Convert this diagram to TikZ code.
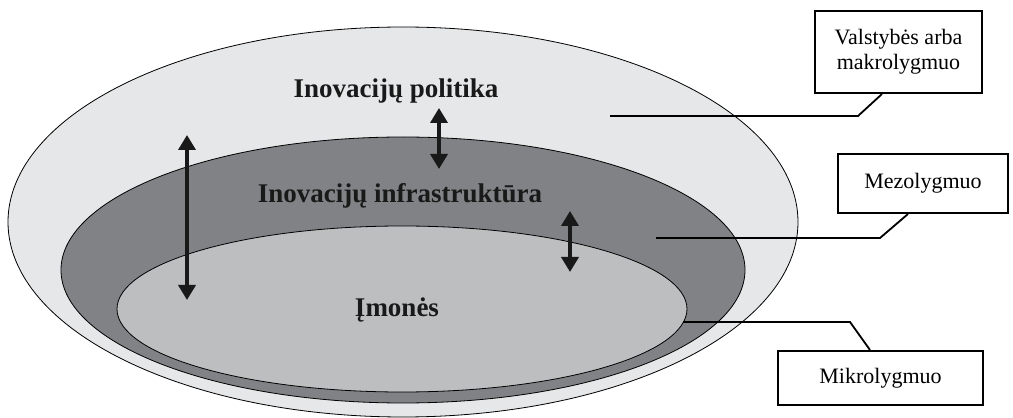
\documentclass[tikz,border=0pt]{standalone}
\usepackage{fontspec}
\setmainfont{Liberation Serif}
\usetikzlibrary{arrows.meta}
\definecolor{outerc}{HTML}{E6E7E8}
\definecolor{midc}{HTML}{808285}
\definecolor{innerc}{HTML}{BCBEC0}
\begin{document}
\begin{tikzpicture}[x=1pt,y=1pt,
  ring/.style={draw=black,line width=0.8pt},
  title/.style={font=\fontsize{27}{30}\selectfont\bfseries,anchor=base,inner sep=0pt,text=black!90},
  lvlbox/.style={draw=black,line width=2pt,fill=white,font=\fontsize{22}{25}\selectfont,align=center,inner sep=2pt},
  leader/.style={draw=black,line width=1.8pt},
  dbl/.style={line width=3.6pt,draw=black!90,{Triangle[width=17pt,length=15pt]}-{Triangle[width=17pt,length=15pt]}}]
\useasboundingbox (0,0) rectangle (1013,418);
\fill[white] (0,0) rectangle (1013,418);
% ellipses
\draw[ring,fill=outerc] (403,196) ellipse [x radius=395,y radius=195];
\draw[ring,fill=midc] (403,148) ellipse [x radius=342,y radius=133];
\draw[ring,fill=innerc] (402,109) ellipse [x radius=285,y radius=83];
% texts
\node[title] (pol) at (396,320) {Inovacijų politika};
\node[title] (inf) at (400,215) {Inovacijų infrastruktūra};
\node[title] (imo) at (397,101) {Įmonės};
% arrows
\coordinate (a1t) at (187,283); \coordinate (a1b) at (187,118);
\coordinate (a2t) at (439,310); \coordinate (a2b) at (439,249);
\coordinate (a3t) at (570,207); \coordinate (a3b) at (570,146);
\draw[dbl] (a1t) -- (a1b);
\draw[dbl] (a2t) -- (a2b);
\draw[dbl] (a3t) -- (a3b);
% boxes
\node[lvlbox,minimum width=167pt,minimum height=82pt] (b1) at (898.5,366) {Valstybės arba\\makrolygmuo};
\node[lvlbox,minimum width=170pt,minimum height=59pt] (b2) at (923,234.5) {Mezolygmuo};
\node[lvlbox,minimum width=205pt,minimum height=54pt] (b3) at (880.5,40) {Mikrolygmuo};
% leaders
\coordinate (k1) at (858,302); \coordinate (e1) at (610,302);
\coordinate (k2) at (880,180); \coordinate (e2) at (656,180);
\coordinate (k3) at (850,96); \coordinate (e3) at (683,96);
\draw[leader] ([xshift=-16.5pt]b1.south) -- (k1) -- (e1);
\draw[leader] ([xshift=-15pt]b2.south) -- (k2) -- (e2);
\draw[leader] ([xshift=-10.5pt]b3.north) -- (k3) -- (e3);
\end{tikzpicture}
\end{document}
